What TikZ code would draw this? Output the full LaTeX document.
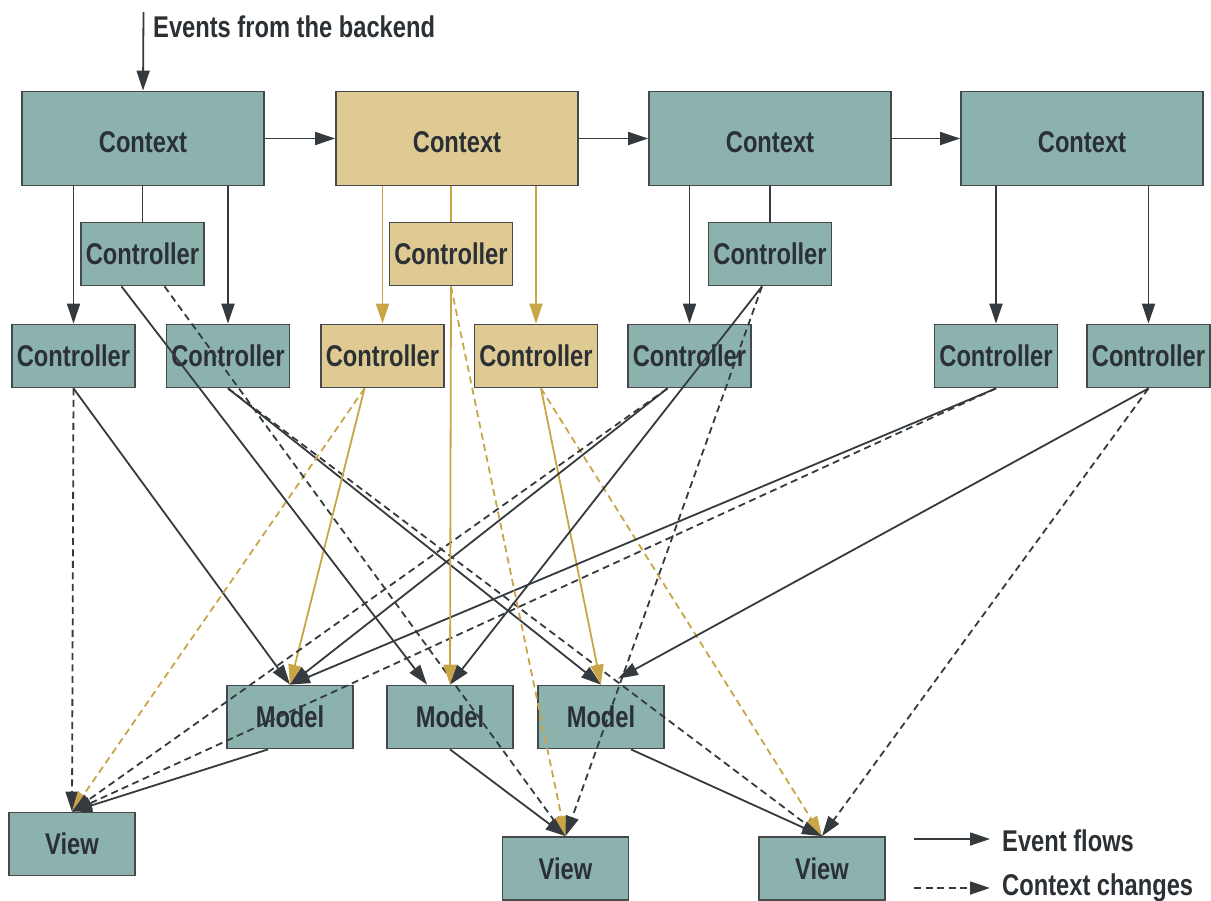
\documentclass[tikz,border=0pt]{standalone}
\usepackage{fontspec}
\setmainfont{Liberation Sans}[FakeStretch=0.79]
\usetikzlibrary{arrows.meta}

\definecolor{boxfill}{HTML}{8CB2AD}
\definecolor{tanfill}{HTML}{E0CA94}
\definecolor{tanline}{HTML}{C8A546}
\definecolor{ink}{HTML}{353A3F}
\definecolor{frame}{HTML}{45494D}
\definecolor{label}{HTML}{2B3035}

\newcommand\dgfont{\fontsize{30bp}{32bp}\selectfont\bfseries}
% set a label a little below the middle of its box
\newcommand\lowered[1]{\raisebox{-4bp}[\height][\depth]{#1}}

\begin{document}
\begin{tikzpicture}[x=1bp,y=-1bp,
  box/.style={draw=frame, line width=1.8bp, fill=boxfill, text=label,
              font=\dgfont, inner sep=0pt},
  ctx/.style={box, minimum width=242bp, minimum height=94bp},
  ctl/.style={box, minimum width=123bp, minimum height=63bp},
  mdl/.style={box, minimum width=126bp, minimum height=63bp},
  warm/.style={fill=tanfill},
  tip/.style={-{Triangle[length=20bp,width=13bp]}},
  flow/.style={draw=ink, line width=1.8bp, tip},
  change/.style={flow, dash pattern=on 7bp off 4.5bp},
  wflow/.style={flow, draw=tanline},
  wchange/.style={change, draw=tanline},
  link/.style={draw=ink, line width=1.8bp},
  wlink/.style={draw=tanline, line width=1.8bp},
  txt/.style={text=label, font=\dgfont, inner sep=0pt, anchor=base west}
]
\useasboundingbox (0,0) rectangle (1211,901);

% contexts
\node[ctx]      (ctxA) at (143,138.5)  {\lowered{Context}};
\node[ctx,warm] (ctxB) at (457,138.5)  {\lowered{Context}};
\node[ctx]      (ctxC) at (770,138.5)  {\lowered{Context}};
\node[ctx]      (ctxD) at (1082,138.5) {\lowered{Context}};

% controllers hanging off a context
\node[ctl]      (subA) at (142.5,254) {Controller};
\node[ctl,warm] (subB) at (451,254)   {Controller};
\node[ctl]      (subC) at (770,254)   {Controller};

% controllers in the lower row
\node[ctl]      (k1) at (73.5,356)   {Controller};
\node[ctl]      (k2) at (228,356)    {Controller};
\node[ctl,warm] (k3) at (382.5,356)  {Controller};
\node[ctl,warm] (k4) at (536,356)    {Controller};
\node[ctl]      (k5) at (689.5,356)  {Controller};
\node[ctl]      (k6) at (996,356)    {Controller};
\node[ctl]      (k7) at (1148.5,356) {Controller};

% models
\node[mdl] (m1) at (290,717)   {Model};
\node[mdl] (m2) at (450,717)   {Model};
\node[mdl] (m3) at (601,717)   {Model};

% views
\node[mdl] (v1) at (72,844)      {View};
\node[mdl] (v2) at (565.5,868.5) {View};
\node[mdl] (v3) at (822,868.5)   {View};

% incoming events
\coordinate (src) at (143.5,12);
\draw[flow] (src) -- (ctxA.north);
\node[txt] (evt) at (153,37) {Events from the backend};

% context chain
\draw[flow] (ctxA.east) -- (ctxB.west);
\draw[flow] (ctxB.east) -- (ctxC.west);
\draw[flow] (ctxC.east) -- (ctxD.west);

% context to controllers
\draw[flow] (k1.north |- ctxA.south) -- (k1.north);
\draw[link] (subA.north |- ctxA.south) -- (subA.north);
\draw[flow] (k2.north |- ctxA.south) -- (k2.north);
\draw[wflow] (k3.north |- ctxB.south) -- (k3.north);
\draw[wlink] (subB.north |- ctxB.south) -- (subB.north);
\draw[wflow] (k4.north |- ctxB.south) -- (k4.north);
\draw[flow] (k5.north |- ctxC.south) -- (k5.north);
\draw[link] (subC.north |- ctxC.south) -- (subC.north);
\draw[flow] (k6.north |- ctxD.south) -- (k6.north);
\draw[flow] (k7.north |- ctxD.south) -- (k7.north);

% controllers to models and views
\draw[change] (k1.south) -- (v1.north);
\draw[flow]   (k1.south) -- (m1.north);

\draw[flow]   (k2.south) -- (m3.north);
\draw[change] (k2.south) -- (v3.north);

\draw[wchange] ([xshift=-18bp]k3.south) -- (v1.north);
\draw[wflow]   ([xshift=-18bp]k3.south) -- (m1.north);

\draw[wflow]   ([xshift=5bp]k4.south) -- (m3.north);
\draw[wchange] ([xshift=5bp]k4.south) -- (v3.north);

\draw[flow]   ([xshift=-22bp]k5.south) -- (m1.north);
\draw[change] ([xshift=-22bp]k5.south) -- (v1.north);

\draw[flow]   (k6.south) -- (m1.north);
\draw[change] (k6.south) -- (v1.north);

\draw[flow]   (k7.south) -- ([xshift=17bp,yshift=6bp]m3.north);
\draw[change] (k7.south) -- (v3.north);

\draw[flow]   ([xshift=-21bp]subA.south) -- ([xshift=-23bp]m2.north);
\draw[change] ([xshift=22bp]subA.south) -- (v2.north);

\draw[wflow]   (subB.south) -- (m2.north);
\draw[wchange] (subB.south) -- (v2.north);

\draw[flow]   ([xshift=-8bp]subC.south) -- (m2.north);
\draw[change] ([xshift=-8bp]subC.south) -- (v2.north);

% models to views
\draw[flow] ([xshift=-22bp]m1.south) -- (v1.north);
\draw[flow] (m2.south) -- (v2.north);
\draw[flow] ([xshift=30bp]m3.south) -- (v3.north);

% legend
\coordinate (legA) at (914,839);
\coordinate (legB) at (990,839);
\coordinate (legC) at (914,888);
\coordinate (legD) at (990,888);
\draw[flow]   (legA) -- (legB);
\draw[change] (legC) -- (legD);
\node[txt] (legE) at (1002,851) {Event flows};
\node[txt] (legF) at (1002,895) {Context changes};
\end{tikzpicture}
\end{document}
